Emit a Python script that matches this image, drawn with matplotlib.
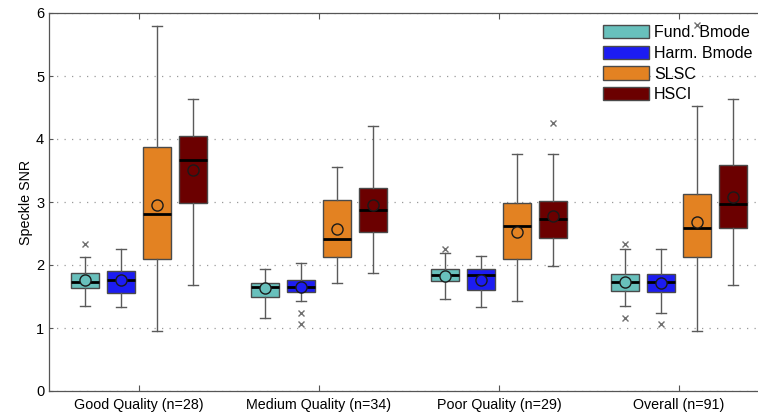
import matplotlib
matplotlib.use("Agg")
import matplotlib.pyplot as plt
from matplotlib.patches import Patch

plt.rcParams["font.family"] = ["Liberation Sans", "DejaVu Sans"]

groups = ["Good Quality (n=28)", "Medium Quality (n=34)", "Poor Quality (n=29)", "Overall (n=91)"]
methods = ["Fund. Bmode", "Harm. Bmode", "SLSC", "HSCI"]
colors = ["#68c0bc", "#1c1cf2", "#e38222", "#6b0000"]

# rows = methods, columns = groups
whis_lo = [[1.35, 1.16, 1.46, 1.35],
           [1.335, 1.43, 1.33, 1.235],
           [0.96, 1.71, 1.43, 0.96],
           [1.68, 1.87, 1.98, 1.68]]
q1 = [[1.63, 1.50, 1.74, 1.59],
      [1.555, 1.565, 1.60, 1.575],
      [2.10, 2.12, 2.095, 2.12],
      [2.985, 2.525, 2.435, 2.58]]
medians = [[1.735, 1.655, 1.845, 1.725],
           [1.755, 1.65, 1.84, 1.725],
           [2.815, 2.415, 2.62, 2.59],
           [3.67, 2.87, 2.735, 2.97]]
q3 = [[1.88, 1.72, 1.93, 1.855],
      [1.91, 1.76, 1.93, 1.855],
      [3.88, 3.03, 2.98, 3.12],
      [4.04, 3.22, 3.01, 3.58]]
whis_hi = [[2.13, 1.935, 2.19, 2.26],
           [2.25, 2.03, 2.145, 2.25],
           [5.80, 3.55, 3.755, 4.53],
           [4.63, 4.21, 3.765, 4.64]]
means = [[1.765, 1.63, 1.83, 1.735],
         [1.755, 1.645, 1.765, 1.72],
         [2.96, 2.565, 2.53, 2.68],
         [3.51, 2.95, 2.78, 3.08]]
outliers = [[[2.33], [], [2.255], [1.165, 2.335]],
            [[], [1.06, 1.24], [], [1.06]],
            [[], [], [], [5.81]],
            [[], [], [4.25], []]]

fig = plt.figure(figsize=(7.58, 4.2), dpi=100)
ax = fig.add_axes([49 / 758, 29 / 420, 720 / 758, 378 / 420])

offsets = [-0.3, -0.1, 0.1, 0.3]
for m in range(len(methods)):
    stats = []
    for g in range(len(groups)):
        stats.append({"whislo": whis_lo[m][g], "q1": q1[m][g], "med": medians[m][g],
                      "q3": q3[m][g], "whishi": whis_hi[m][g], "mean": means[m][g],
                      "fliers": outliers[m][g]})
    pos = [g + 1 + offsets[m] for g in range(len(groups))]
    bp = ax.bxp(stats, positions=pos, widths=0.16, capwidths=0.06, showmeans=True,
                patch_artist=True, manage_ticks=False,
                boxprops=dict(facecolor=colors[m], edgecolor="#4a4a4a", linewidth=1.0),
                whiskerprops=dict(color="#5a5a5a", linewidth=1.0, linestyle="-"),
                capprops=dict(color="#5a5a5a", linewidth=1.0),
                medianprops=dict(color="black", linewidth=2.0),
                meanprops=dict(marker="o", markersize=8, markerfacecolor=colors[m],
                               markeredgecolor="#1a1a1a", markeredgewidth=1.0),
                flierprops=dict(marker="x", markersize=5, markeredgecolor="#707070",
                                markeredgewidth=1.0))
    for mk in bp["means"]:
        mk.set_zorder(4)

ax.set_xlim(0.5, 4.5)
ax.set_ylim(0, 6)
ax.set_xticks(range(1, len(groups) + 1))
ax.set_xticklabels(groups, fontsize=10.3)
ax.set_yticks(range(0, 7))
ax.tick_params(axis="y", labelsize=10.5, direction="in", length=3, color="#555555")
ax.tick_params(axis="x", direction="in", length=4, top=True, color="#555555", pad=5)
ax.set_ylabel("Speckle SNR", fontsize=10.3, labelpad=2)
ax.yaxis.grid(True, linestyle=(0, (1, 5)), color="#9a9a9a", linewidth=0.9)
ax.set_axisbelow(True)
for s in ax.spines.values():
    s.set_color("#555555")
    s.set_linewidth(0.9)

handles = [Patch(facecolor=c, edgecolor="#4a4a4a", linewidth=1.0) for c in colors]
fig.legend(handles, methods, loc="upper left", bbox_to_anchor=(603 / 758, 1 - 25 / 420),
           frameon=False, fontsize=11.5, handlelength=2.9, handleheight=0.9,
           handletextpad=0.3, labelspacing=0.35, borderpad=0, borderaxespad=0)

fig.savefig("out.png", dpi=100)
